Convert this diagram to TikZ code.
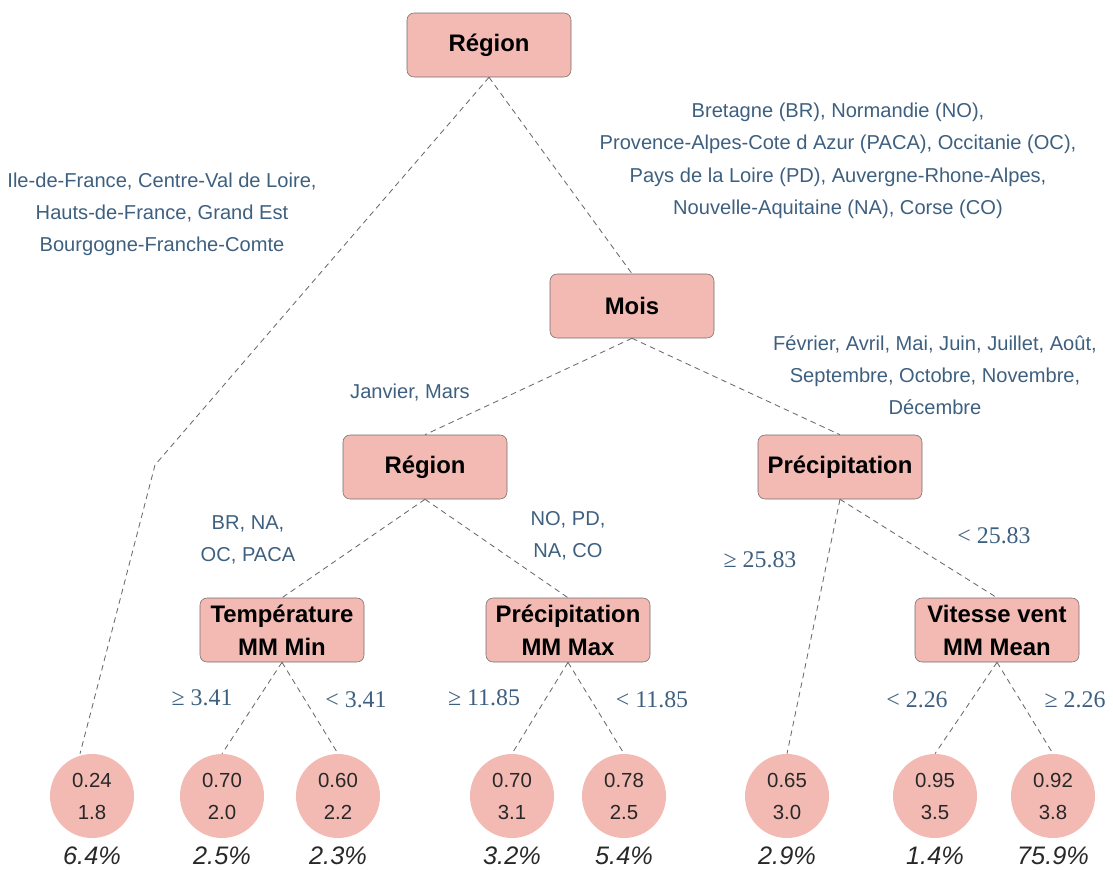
\documentclass[tikz,border=0pt]{standalone}
\usepackage{fontspec}
\setmainfont{Liberation Sans}
\newfontfamily\thresholdfont{Liberation Serif}
\usepackage{tikz}
\usetikzlibrary{positioning, calc}

\definecolor{nodefill}{RGB}{242,186,179}
\definecolor{nodeborder}{RGB}{120,108,108}
\definecolor{splittext}{RGB}{62,96,128}
\definecolor{edgegray}{RGB}{105,105,110}
\definecolor{leaftext}{RGB}{40,40,40}

\begin{document}
\begin{tikzpicture}[
    every node/.style={font=\fontsize{14.3}{22.8}\selectfont},
    split/.style={rectangle, rounded corners=5pt, draw=nodeborder, fill=nodefill, minimum width=4.1cm, minimum height=1.6cm, align=center, inner sep=2pt, font=\fontsize{17}{23.5}\selectfont\bfseries},
    leaf/.style={circle, fill=nodefill, minimum size=2.1cm, align=center, inner sep=0pt, text=leaftext, font=\fontsize{14.5}{22.8}\selectfont},
    cond/.style={text=splittext, align=center},
    thresh/.style={text=splittext, font=\fontsize{17}{20}\selectfont\thresholdfont},
    pct/.style={text=leaftext, font=\fontsize{18}{20}\selectfont\itshape, label distance=2.5pt},
    edge/.style={draw=edgegray, line width=0.6pt, dash pattern=on 4pt off 3pt},
]
\useasboundingbox (0,0) rectangle (27.825,-21.725);

% Split nodes
\node[split] (root)    at (12.225, -1.125)  {Région};
\node[split] (mois)    at (15.8, -7.65)     {Mois};
\node[split] (region)  at (10.625, -11.675) {Région};
\node[split] (precip)  at (21.0, -11.675)   {Précipitation};
\node[split] (tempmin) at (7.05, -15.75)    {Température\\MM Min};
\node[split] (precmax) at (14.2, -15.75)    {Précipitation\\MM Max};
\node[split] (vent)    at (24.925, -15.75)  {Vitesse vent\\MM Mean};

% Leaves
\node[leaf, label={[pct]below:6.4\%}]  (l1) at (2.3, -19.9)    {0.24\\1.8};
\node[leaf, label={[pct]below:2.5\%}]  (l2) at (5.55, -19.9)   {0.70\\2.0};
\node[leaf, label={[pct]below:2.3\%}]  (l3) at (8.45, -19.9)   {0.60\\2.2};
\node[leaf, label={[pct]below:3.2\%}]  (l4) at (12.8, -19.9)   {0.70\\3.1};
\node[leaf, label={[pct]below:5.4\%}]  (l5) at (15.6, -19.9)   {0.78\\2.5};
\node[leaf, label={[pct]below:2.9\%}]  (l6) at (19.675, -19.9) {0.65\\3.0};
\node[leaf, label={[pct]below:1.4\%}]  (l7) at (23.375, -19.9) {0.95\\3.5};
\node[leaf, label={[pct]below:75.9\%}] (l8) at (26.325, -19.9) {0.92\\3.8};

% Edges
\coordinate (bend) at (3.875, -11.625);
\draw[edge] (root.south) -- (bend) -- ([xshift=-0.3cm]l1.north);
\draw[edge] (root.south) -- (mois.north);
\draw[edge] (mois.south) -- (region.north);
\draw[edge] (mois.south) -- (precip.north);
\draw[edge] (region.south) -- (tempmin.north);
\draw[edge] (region.south) -- (precmax.north);
\draw[edge] (precip.south) -- (l6.north);
\draw[edge] (precip.south) -- (vent.north);
\draw[edge] (tempmin.south) -- (l2.north);
\draw[edge] (tempmin.south) -- (l3.north);
\draw[edge] (precmax.south) -- (l4.north);
\draw[edge] (precmax.south) -- (l5.north);
\draw[edge] (vent.south) -- (l7.north);
\draw[edge] (vent.south) -- (l8.north);

% Split conditions
\node[cond] (c1) at (4.05, -5.35) {Ile-de-France, Centre-Val de Loire,\\Hauts-de-France, Grand Est\\Bourgogne-Franche-Comte};
\node[cond] (c2) at (20.95, -4.02) {Bretagne (BR), Normandie (NO),\\Provence-Alpes-Cote d Azur (PACA), Occitanie (OC),\\Pays de la Loire (PD), Auvergne-Rhone-Alpes,\\Nouvelle-Aquitaine (NA), Corse (CO)};
\node[cond] (c3) at (10.25, -9.8) {Janvier, Mars};
\node[cond] (c4) at (23.375, -9.375) {Février, Avril, Mai, Juin, Juillet, Août,\\Septembre, Octobre, Novembre,\\Décembre};
\node[cond] (c5) at (6.2, -13.5) {BR, NA,\\OC, PACA};
\node[cond] (c6) at (14.2, -13.4) {NO, PD,\\NA, CO};
\node[thresh] (c7) at (19.0, -14.0) {≥ 25.83};
\node[thresh] (c8) at (24.85, -13.4) {< 25.83};
\node[thresh] (c9) at (5.05, -17.45) {≥ 3.41};
\node[thresh] (c10) at (8.9, -17.5) {< 3.41};
\node[thresh] (c11) at (12.1, -17.45) {≥ 11.85};
\node[thresh] (c12) at (16.3, -17.5) {< 11.85};
\node[thresh] (c13) at (22.925, -17.5) {< 2.26};
\node[thresh] (c14) at (26.875, -17.5) {≥ 2.26};

\end{tikzpicture}
\end{document}
